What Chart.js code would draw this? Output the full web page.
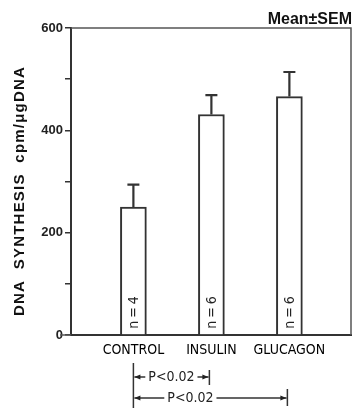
<!DOCTYPE html>
<html lang="en">
<head>
<meta charset="UTF-8">
<title>DNA synthesis</title>
<style>
  html, body { margin: 0; padding: 0; background: #fff; }
  #wrap { position: relative; width: 353px; height: 408px; }
</style>
</head>
<body>
<div id="wrap"><canvas id="dna-chart" width="353" height="408"></canvas></div>

<script src="https://cdn.jsdelivr.net/npm/chart.js"></script>
<script>
// data
const categories = ['CONTROL', 'INSULIN', 'GLUCAGON'];
const positions = [1, 2, 3];
const means = [250, 431, 466];
const sems = [44, 38, 48];
const nLabels = ['n=4', 'n=6', 'n=6'];
const yTickValues = [0, 100, 200, 300, 400, 500, 600];
const yTickLabels = ['0', '', '200', '', '400', '', '600'];
const pFrom = [0, 0];
const pTo = [1, 2];
const pText = ['P<0.02', 'P<0.02'];

const ink = '#333';
const narrow = '"Liberation Sans Narrow", "DejaVu Sans Condensed", Arial, sans-serif';

// error bars + n labels inside the bars
const errorBars = {
  id: 'errorBars',
  afterDatasetsDraw(chart) {
    const ctx = chart.ctx;
    const y = chart.scales.y;
    const meta = chart.getDatasetMeta(0);
    ctx.save();
    ctx.strokeStyle = ink;
    ctx.lineWidth = 2.2;
    meta.data.forEach((bar, i) => {
      const top = y.getPixelForValue(means[i] + sems[i]);
      ctx.beginPath();
      ctx.moveTo(bar.x, bar.y);
      ctx.lineTo(bar.x, top);
      ctx.moveTo(bar.x - 6, top);
      ctx.lineTo(bar.x + 6, top);
      ctx.stroke();

      // n=.. rotated
      ctx.save();
      ctx.translate(bar.x + 1, y.getPixelForValue(0) - 24);
      ctx.rotate(-Math.PI / 2);
      ctx.fillStyle = '#222';
      ctx.font = '14px ' + narrow;
      ctx.letterSpacing = '3px';
      ctx.textAlign = 'center';
      ctx.textBaseline = 'middle';
      ctx.fillText(nLabels[i], 0, 0);
      ctx.restore();
    });
    ctx.restore();
  }
};

// frame, titles and the P brackets under the axis
const extras = {
  id: 'extras',
  afterDraw(chart) {
    const ctx = chart.ctx;
    const a = chart.chartArea;
    const x = chart.scales.x;
    ctx.save();

    // top + right side of the box
    ctx.strokeStyle = '#555';
    ctx.lineWidth = 1.5;
    ctx.beginPath();
    ctx.moveTo(a.left, a.top);
    ctx.lineTo(a.right, a.top);
    ctx.lineTo(a.right, a.bottom);
    ctx.stroke();
    // baseline running past the axis at 0
    ctx.beginPath();
    ctx.moveTo(a.left - 11, a.bottom);
    ctx.lineTo(a.left, a.bottom);
    ctx.stroke();

    ctx.fillStyle = '#111';
    ctx.font = 'bold 16px Arial, "Liberation Sans", sans-serif';
    ctx.textAlign = 'right';
    ctx.textBaseline = 'alphabetic';
    ctx.fillText('Mean\u00B1SEM', a.right + 1, 24);

    // y title
    ctx.save();
    ctx.translate(20, 191);
    ctx.rotate(-Math.PI / 2);
    ctx.font = 'bold 15px Arial, "Liberation Sans", sans-serif';
    ctx.letterSpacing = '1.2px';
    ctx.textAlign = 'center';
    ctx.textBaseline = 'middle';
    ctx.fillText('DNA  SYNTHESIS  cpm/\u03BCgDNA', 0, 0);
    ctx.restore();

    // P brackets
    const rows = [377, 398];
    const rowTop = [370, 389];
    const textShift = [0, -20];
    ctx.strokeStyle = ink;
    ctx.fillStyle = '#222';
    ctx.lineWidth = 1.5;
    ctx.font = '14px ' + narrow;
    ctx.textAlign = 'center';
    ctx.textBaseline = 'middle';
    const x0 = x.getPixelForValue(positions[pFrom[0]]);
    ctx.beginPath();
    ctx.moveTo(x0, 363);
    ctx.lineTo(x0, 408);
    ctx.stroke();
    pText.forEach((t, k) => {
      const xa = x.getPixelForValue(positions[pFrom[k]]);
      const xb = x.getPixelForValue(positions[pTo[k]]) - 2;
      const yy = rows[k];
      const cx = (xa + xb) / 2 + textShift[k];
      const half = ctx.measureText(t).width / 2 + 3;
      ctx.beginPath();
      ctx.moveTo(xb, rowTop[k]);
      ctx.lineTo(xb, yy + 8);
      ctx.moveTo(xa + 1, yy);
      ctx.lineTo(cx - half, yy);
      ctx.moveTo(cx + half, yy);
      ctx.lineTo(xb - 1, yy);
      ctx.stroke();
      // arrow heads
      ctx.beginPath();
      ctx.moveTo(xa + 1, yy);
      ctx.lineTo(xa + 7, yy - 2.5);
      ctx.lineTo(xa + 7, yy + 2.5);
      ctx.closePath();
      ctx.moveTo(xb - 1, yy);
      ctx.lineTo(xb - 7, yy - 2.5);
      ctx.lineTo(xb - 7, yy + 2.5);
      ctx.closePath();
      ctx.fill();
      ctx.fillText(t, cx, yy);
    });
    ctx.restore();
  }
};

new Chart(document.getElementById('dna-chart'), {
  type: 'bar',
  data: {
    datasets: [{
      data: positions.map((p, i) => ({ x: p, y: means[i] })),
      backgroundColor: '#fff',
      borderColor: ink,
      borderWidth: 2,
      barThickness: 26
    }]
  },
  options: {
    responsive: false,
    animation: false,
    devicePixelRatio: 1,
    layout: { padding: { top: 28, right: 2, left: 0, bottom: 0 } },
    plugins: { legend: { display: false }, tooltip: { enabled: false } },
    scales: {
      x: {
        type: 'linear',
        min: 0.2,
        max: 3.79,
        offset: false,
        bounds: 'data',
        afterBuildTicks(s) { s.ticks = positions.map(v => ({ value: v })); },
        afterFit(s) { s.height = 73; },
        grid: { display: false, drawTicks: false, offset: false },
        border: { color: ink, width: 2 },
        ticks: {
          padding: 7,
          color: '#000',
          autoSkip: false,
          maxRotation: 0,
          minRotation: 0,
          font: { family: narrow, size: 14 },
          callback: (v) => categories[positions.indexOf(v)]
        }
      },
      y: {
        min: 0,
        max: 600,
        afterBuildTicks(s) { s.ticks = yTickValues.map(v => ({ value: v })); },
        afterFit(s) { s.width = 71; },
        grid: { drawOnChartArea: false, tickLength: 6, color: ink, lineWidth: 1.5 },
        border: { color: ink, width: 2 },
        ticks: {
          padding: 2,
          color: '#222',
          autoSkip: false,
          font: { family: 'Arial, "Liberation Sans", sans-serif', size: 13, weight: 'bold' },
          callback: (v) => yTickLabels[yTickValues.indexOf(v)]
        }
      }
    }
  },
  plugins: [errorBars, extras]
});
</script>
</body>
</html>
